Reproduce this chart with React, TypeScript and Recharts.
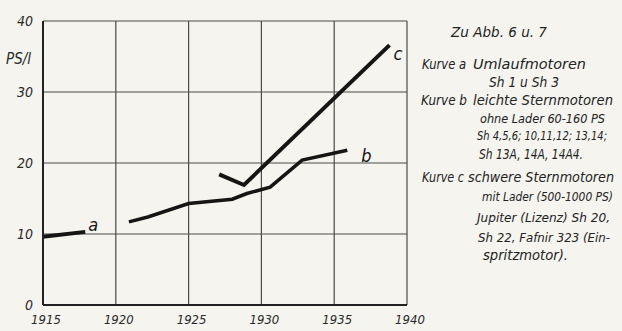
import { LineChart, Line, XAxis, YAxis, CartesianGrid } from "recharts";

const years = [1915, 1920, 1925, 1930, 1935, 1940];
const psTicks = [0, 10, 20, 30, 40];

// Kurve a: Umlaufmotoren
const curveA = [
  { year: 1915, ps: 9.6 },
  { year: 1917.9, ps: 10.3 },
];

// Kurve b: leichte Sternmotoren ohne Lader
const curveB = [
  { year: 1920.9, ps: 11.7 },
  { year: 1922.2, ps: 12.4 },
  { year: 1925, ps: 14.3 },
  { year: 1928, ps: 14.9 },
  { year: 1929, ps: 15.7 },
  { year: 1930.6, ps: 16.6 },
  { year: 1932.8, ps: 20.4 },
  { year: 1935.9, ps: 21.8 },
];

// Kurve c: schwere Sternmotoren mit Lader
const curveC = [
  { year: 1927.1, ps: 18.4 },
  { year: 1928.8, ps: 16.9 },
  { year: 1938.8, ps: 36.6 },
];

// note block on the right: x, centre y, text, width it fills, font size
const noteLines = [
  { x: 451, y: 32, t: "Zu Abb. 6 u. 7", w: 96, s: 13.5 },
  { x: 422, y: 64, t: "Kurve a", w: 44, s: 13.5 },
  { x: 473, y: 64, t: "Umlaufmotoren", w: 113, s: 13.5 },
  { x: 489, y: 82, t: "Sh 1 u Sh 3", w: 70, s: 13.5 },
  { x: 421, y: 100, t: "Kurve b", w: 46, s: 13.5 },
  { x: 473, y: 100, t: "leichte Sternmotoren", w: 140, s: 13.5 },
  { x: 480, y: 118, t: "ohne Lader 60-160 PS", w: 125, s: 13 },
  { x: 477, y: 136, t: "Sh 4,5,6; 10,11,12; 13,14;", w: 130, s: 11.5 },
  { x: 479, y: 154, t: "Sh 13A, 14A, 14A4.", w: 104, s: 13.5 },
  { x: 422, y: 177, t: "Kurve c", w: 42, s: 13.5 },
  { x: 468, y: 177, t: "schwere Sternmotoren", w: 146, s: 13.5 },
  { x: 482, y: 197, t: "mit Lader (500-1000 PS)", w: 131, s: 11.5 },
  { x: 477, y: 217, t: "Jupiter (Lizenz) Sh 20,", w: 133, s: 13 },
  { x: 478, y: 237, t: "Sh 22, Fafnir 323 (Ein-", w: 132, s: 13 },
  { x: 483, y: 255, t: "spritzmotor).", w: 85, s: 13.5 },
];

const font = "'Liberation Sans Narrow', 'DejaVu Sans Condensed', 'DejaVu Sans', sans-serif";
const ink = "#151515";

const endLabel = (text: string, count: number, dx: number, dy: number) => (props: any) => {
  if (props.index !== count - 1) return null;
  return (
    <text
      x={props.x + dx}
      y={props.y + dy}
      fontFamily={font}
      fontStyle="italic"
      fontSize={18}
      fill={ink}
      dominantBaseline="central"
    >
      {text}
    </text>
  );
};

export default function App() {
  return (
    <div
      style={{
        position: "absolute",
        left: 0,
        top: 0,
        width: 622,
        height: 331,
        background: "#f5f4ef",
        fontFamily: font,
      }}
    >
      <LineChart
        width={622}
        height={331}
        margin={{ top: 21, right: 215, bottom: 0, left: 0 }}
      >
        <CartesianGrid stroke="#4a4a4a" strokeWidth={1.2} />
        <XAxis
          type="number"
          dataKey="year"
          domain={[1915, 1940]}
          ticks={years}
          height={26}
          axisLine={{ stroke: "#222", strokeWidth: 2 }}
          tickLine={false}
          tickSize={6}
          tick={{ fill: "#2a2a2a", fontSize: 13, fontStyle: "italic", fontFamily: font, dx: 3, dy: 2 }}
          interval={0}
        />
        <YAxis
          type="number"
          domain={[0, 40]}
          ticks={psTicks}
          width={43}
          axisLine={{ stroke: "#222", strokeWidth: 2 }}
          tickLine={false}
          tickSize={6}
          tick={{ fill: "#2a2a2a", fontSize: 14, fontStyle: "italic", fontFamily: font, dx: -2 }}
          interval={0}
        />
        <Line
          data={curveA}
          dataKey="ps"
          stroke={ink}
          strokeWidth={4}
          dot={false}
          isAnimationActive={false}
          label={endLabel("a", curveA.length, 3, -7)}
        />
        <Line
          data={curveB}
          dataKey="ps"
          stroke={ink}
          strokeWidth={3.5}
          dot={false}
          isAnimationActive={false}
          label={endLabel("b", curveB.length, 14, 5)}
        />
        <Line
          data={curveC}
          dataKey="ps"
          stroke={ink}
          strokeWidth={4}
          dot={false}
          isAnimationActive={false}
          label={endLabel("c", curveC.length, 4, 8)}
        />
      </LineChart>
      <svg
        width={622}
        height={331}
        style={{ position: "absolute", left: 0, top: 0, pointerEvents: "none" }}
      >
        <text x={6} y={59} fontSize={15} fontStyle="italic" fill="#2a2a2a" fontFamily={font} dominantBaseline="central">
          PS/l
        </text>
        {noteLines.map((n) => (
          <text
            key={n.t + n.y}
            x={n.x}
            y={n.y}
            fontSize={n.s}
            fontStyle="italic"
            fill="#222"
            fontFamily={font}
            dominantBaseline="central"
            textLength={n.w}
            lengthAdjust="spacingAndGlyphs"
          >
            {n.t}
          </text>
        ))}
      </svg>
    </div>
  );
}
